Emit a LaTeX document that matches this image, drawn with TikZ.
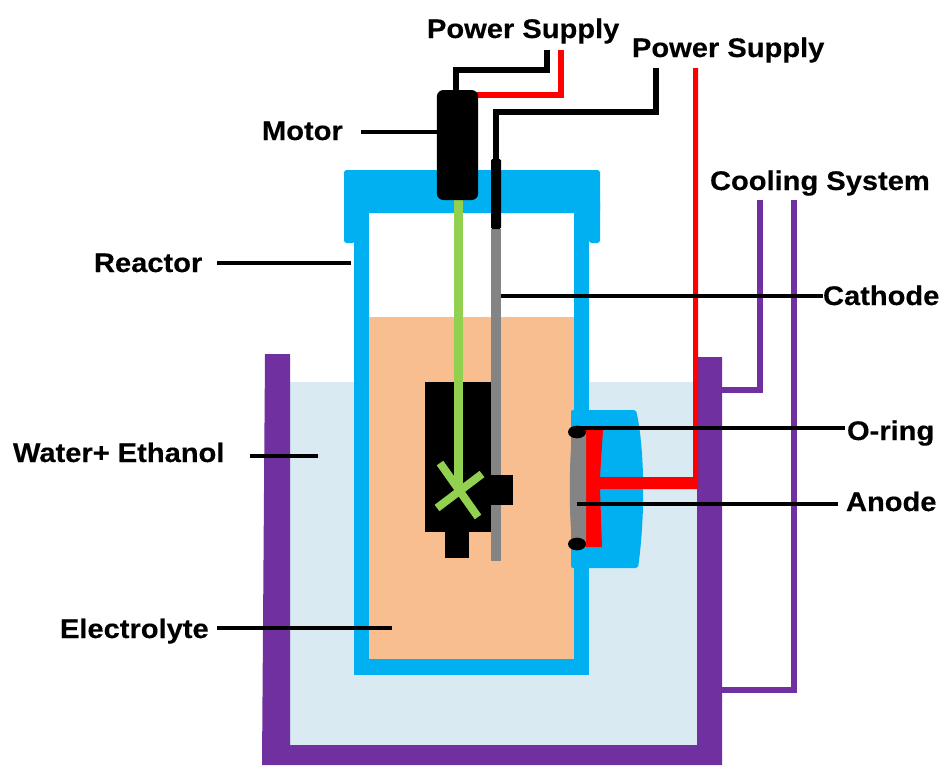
\documentclass[tikz,border=0pt]{standalone}
\usepackage{fontspec}
\usetikzlibrary{shapes.geometric}
\setmainfont{Liberation Sans}
\newfontfamily\lblfont[FakeStretch=1.08,FakeBold=0.3]{Liberation Sans}
\definecolor{rblue}{HTML}{00B0F0}
\definecolor{water}{HTML}{D9EAF3}
\definecolor{elec}{HTML}{F8BE8F}
\definecolor{bath}{HTML}{7030A0}
\definecolor{stir}{HTML}{92D050}
\definecolor{rod}{HTML}{848484}
\definecolor{wred}{HTML}{FF0000}
\tikzset{
  lbl/.style={anchor=base west,inner sep=0pt,outer sep=0pt,font=\lblfont\bfseries\fontsize{20.2pt}{24pt}\selectfont,text=black},
  leader/.style={draw=black,line width=2.7pt},
  wire/.style={line width=4pt,miter limit=10},
  pipe/.style={draw=bath,line width=4.2pt},
  solid box/.style={inner sep=0pt,outer sep=0pt,draw=none}
}
\begin{document}
\begin{tikzpicture}[x=0.75pt,y=-0.75pt]
\useasboundingbox (0,0) rectangle (944,765);
% water bath
\fill[water] (288,382) rectangle (699,747);
\fill[bath] (265,354) -- (290,354) -- (290,745) -- (697,745) -- (697,357) -- (722,357) -- (722,765) -- (262,765) -- cycle;
% cooling pipes
\coordinate (pipeA) at (699,390);
\coordinate (pipeB) at (722,690);
\coordinate (coolA) at (760,200);
\coordinate (coolB) at (794,200);
\draw[pipe] (pipeA) -| (coolA);
\draw[pipe] (pipeB) -| (coolB);
% reactor
\fill[rblue] (354,205) rectangle (589,675);
\fill[white] (369,213) rectangle (574,317);
\node[solid box,fill=elec,minimum width=153.75pt,minimum height=256.5pt] (electrolyte) at (471.5,488) {};
\fill[rblue,rounded corners=2pt] (344,170) rectangle (600,213);
\fill[rblue,rounded corners=2pt] (344,200) rectangle (355,243);
\fill[rblue,rounded corners=2pt] (589,200) rectangle (600,243);
% anode holder
\fill[rblue,rounded corners=1.5pt] (571,410) -- (636,410) .. controls (644,445) and (646,510) .. (638,568) -- (571,568) -- cycle;
% red connection
\fill[wred] (693,68) -- (698,68) -- (698,489) -- (600,489) -- (602,547) -- (586,547) -- (586,430) -- (603,430) -- (600,477) -- (693,477) -- cycle;
% anode
\fill[rod] (572,432) .. controls (569,470) and (569,510) .. (572,544) -- (586,544) -- (586,432) -- cycle;
% stirrer block
\fill[black] (425,382) rectangle (492,532);
\fill[black] (445,530) rectangle (469,558);
\fill[rod] (491,229) rectangle (501,561);
\node[solid box,fill=black,minimum width=15.75pt,minimum height=22.5pt] (block) at (502.5,490) {};
\fill[black] (490,475) rectangle (500,505);
% shaft and blades
\draw[stir,line width=6.75pt] (458.5,200) -- (458.5,490);
\draw[stir,line width=6pt] (440,463) -- (478,517);
\draw[stir,line width=6pt] (437,508) -- (482,474);
% top wires
\coordinate (motorBlack) at (547,50);
\coordinate (motorRed) at (561,50);
\coordinate (cathBlack) at (656,68);
\draw[wire,black] (456,92) |- (547,70) -- (motorBlack);
\draw[wire,wred] (476,95) -| (motorRed);
\draw[wire,black] (cathBlack) |- (496,112) -- (496,162);
% cathode top
\node[solid box,fill=black,rounded corners=1pt,minimum width=7.5pt,minimum height=52.5pt] (cathTop) at (496,194) {};
% motor
\node[solid box,fill=black,rounded corners=5pt,minimum width=31pt,minimum height=82.5pt] (motor) at (457.5,145) {};
% o-rings
\node[solid box,fill=black,ellipse,minimum width=13.5pt,minimum height=9.5pt] (ringA) at (577,432) {};
\node[solid box,fill=black,ellipse,minimum width=13.5pt,minimum height=9.5pt] (ringB) at (577,544) {};
% labels
\node[lbl] (lPowerA) at (427,38) {Power Supply};
\node[lbl] (lPowerB) at (632,57) {Power Supply};
\node[lbl] (lMotor) at (262,140) {Motor};
\node[lbl] (lCool) at (710,190) {Cooling System};
\node[lbl] (lReactor) at (94,272) {Reactor};
\node[lbl] (lCathode) at (823,305) {Cathode};
\node[lbl] (lOring) at (847,440) {O-ring};
\node[lbl] (lWater) at (13,462) {Water+ Ethanol};
\node[lbl] (lAnode) at (846,511) {Anode};
\node[lbl] (lElec) at (60,638) {Electrolyte};
% leaders
\coordinate (tMotor) at (361,132);
\coordinate (tReactor) at (217,263);
\coordinate (eReactor) at (351,263);
\coordinate (tWater) at (250,456);
\coordinate (eWater) at (318,456);
\coordinate (tElec) at (217,628);
\coordinate (eElec) at (392,628);
\coordinate (eCath) at (501,296);
\coordinate (eOring) at (845,428);
\coordinate (tAnode) at (577,504);
\coordinate (eAnode) at (838,504);
\draw[leader] (tMotor) -- (motor.west |- tMotor);
\draw[leader] (tReactor) -- (eReactor);
\draw[leader] (tWater) -- (eWater);
\draw[leader] (tElec) -- (eElec);
\draw[leader] (eCath) -- (lCathode.west |- eCath);
\draw[leader] (ringA.center |- eOring) -- (eOring);
\draw[leader] (tAnode) -- (eAnode);
\end{tikzpicture}
\end{document}
